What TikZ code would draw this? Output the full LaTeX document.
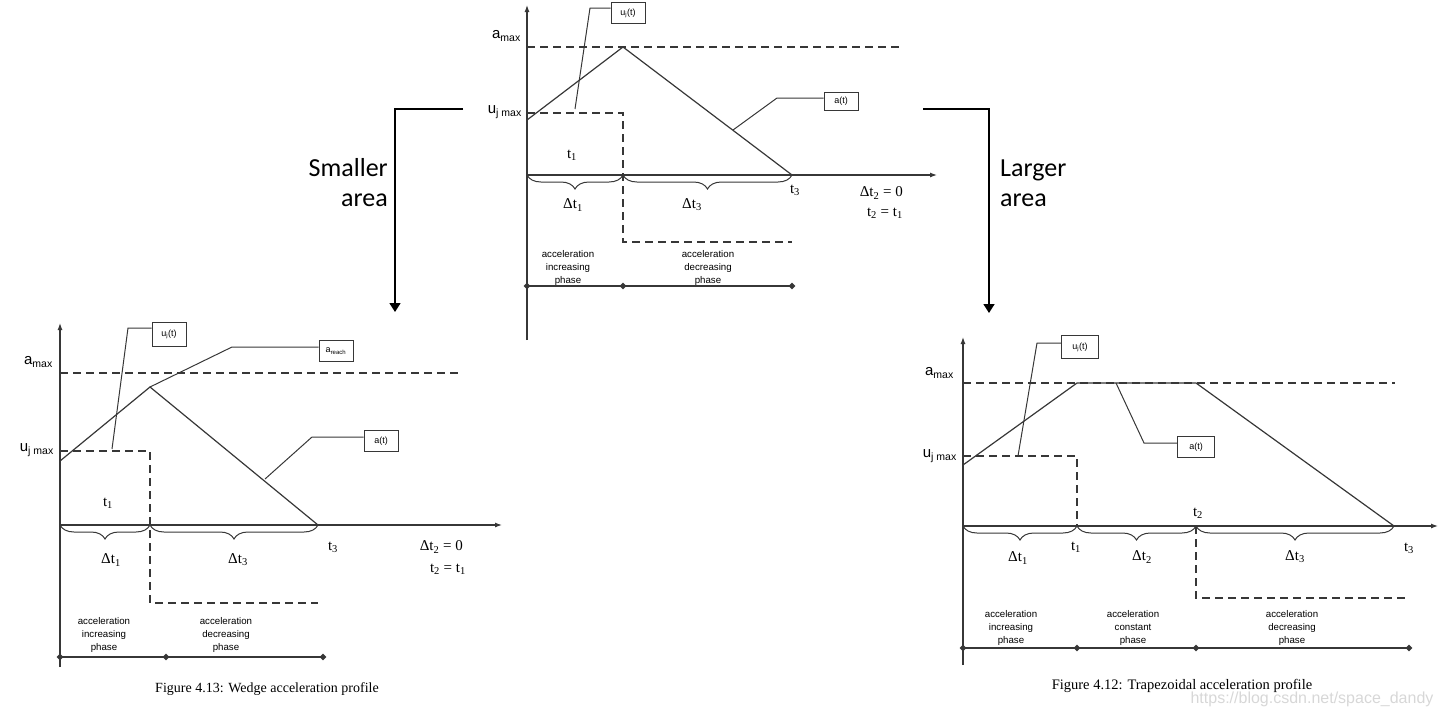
\documentclass[tikz,border=0pt]{standalone}
\usepackage{fontspec}
\setmainfont{Liberation Serif}
\setsansfont{Liberation Sans}
\newfontfamily\arrowfont{Carlito}
\usepackage{tikz}
\usetikzlibrary{arrows.meta, positioning, shapes.geometric, decorations.pathreplacing}
\definecolor{inkgray}{RGB}{55,55,55}
\definecolor{markgray}{RGB}{215,215,215}

\begin{document}
\begin{tikzpicture}[x=1pt, y=-1pt,
    axis/.style={draw=inkgray, line width=1.2pt, -{Latex[length=7pt,width=5pt]}},
    curve/.style={draw=inkgray, line width=1.2pt},
    guide/.style={draw=inkgray, line width=1.2pt, dash pattern=on 8pt off 5pt},
    leader/.style={draw=inkgray, line width=1pt},
    tag/.style={draw=inkgray, line width=1pt, minimum width=34pt, minimum height=21pt, inner sep=1pt, font=\sffamily\fontsize{9}{10}\selectfont},
    ylab/.style={anchor=east, inner sep=0pt, font=\sffamily\fontsize{15}{17}\selectfont},
    tlab/.style={inner sep=0pt, font=\fontsize{15}{17}\selectfont},
    phase/.style={align=center, inner sep=0pt, font=\sffamily\fontsize{9.7}{12.7}\selectfont},
    brc/.style={draw=inkgray, line width=1pt, decorate, decoration={brace, mirror, amplitude=14pt}},
    tick/.style={diamond, fill=inkgray, inner sep=0pt, minimum size=7pt},
    phaseline/.style={draw=inkgray, line width=1.1pt},
    flow/.style={draw=black, line width=1.6pt, -{Triangle[length=9pt,width=11pt]}},
    flowtext/.style={inner sep=0pt, font=\arrowfont\fontsize{26}{30}\selectfont},
    caption/.style={inner sep=0pt, font=\fontsize{14}{16}\selectfont}]
  \useasboundingbox (0,0) rectangle (1441,713);

  % Top profile: wedge that just touches a_max
  \draw[guide] (527,47) -- (900,47);
  \draw[guide] (527,113) -- (623,113) -- (623,242) -- (792,242);
  \draw[curve] (527,120) -- (623,47) -- (792,175);
  \draw[axis] (527,340) -- (527,5);
  \draw[axis] (527,175) -- (937,175);
  \node[ylab] (twamax) at (521,36) {a\textsubscript{max}};
  \node[ylab] (twujmax) at (522,112) {u\textsubscript{j max}};
  \node[tag] (twujt) at (628,13) {u\textsubscript{j}(t)};
  \node[tag, minimum height=18pt] (twat) at (841,101) {a(t)};
  \coordinate (twuk) at (590,8);
  \coordinate (twak) at (777,98);
  \draw[leader] (575,109) -- (twuk) -- (twuk -| twujt.west);
  \draw[leader] (733,130) -- (twak) -- (twak -| twat.west);
  \node[tlab] (twt1) at (572,155) {t\textsubscript{1}};
  \draw[brc] (527,175) -- (623,175);
  \draw[brc] (623,175) -- (792,175);
  \node[tlab] (twdt1) at (573,205) {Δt\textsubscript{1}};
  \node[tlab] (twdt3) at (692,205) {Δt\textsubscript{3}};
  \node[tlab] (twt3) at (795,190) {t\textsubscript{3}};
  \node[tlab, anchor=east] (twdt2) at (903,193) {Δt\textsubscript{2} = 0};
  \node[tlab, anchor=east] (twt2) at (903,213) {t\textsubscript{2} = t\textsubscript{1}};
  \node[phase] (twinc) at (568,268) {acceleration\\increasing\\phase};
  \node[phase] (twdec) at (708,268) {acceleration\\decreasing\\phase};
  \foreach \x in {527,623,792}
    \node[tick] (twd\x) at (\x,286) {};
  \draw[phaseline] (twd527.center) -- (twd792.center);

  % Arrows to the two cases
  \coordinate (lstart) at (463,109);
  \coordinate (lend) at (395,312);
  \draw[flow] (lstart) -- (lstart -| lend) -- (lend);
  \node[flowtext, anchor=east, align=right] (smaller) at (388,183) {Smaller\\area};
  \coordinate (rstart) at (923,109);
  \coordinate (rend) at (989,313);
  \draw[flow] (rstart) -- (rstart -| rend) -- (rend);
  \node[flowtext, anchor=west, align=left] (larger) at (1000,183) {Larger\\area};

  % Bottom left: wedge profile
  \draw[guide] (60,373) -- (462,373);
  \draw[guide] (60,451) -- (150,451) -- (150,603) -- (318,603);
  \coordinate (swpeak) at (150,387);
  \draw[curve] (60,461) -- (swpeak) -- (318,525);
  \draw[axis] (60,667) -- (60,323);
  \draw[axis] (60,525) -- (502,525);
  \node[ylab] (swamax) at (53,362) {a\textsubscript{max}};
  \node[ylab] (swujmax) at (54,450) {u\textsubscript{j max}};
  \node[tag, minimum height=24pt] (swujt) at (169,334) {u\textsubscript{j}(t)};
  \node[tag] (swreach) at (336,351) {a\textsubscript{reach}};
  \node[tag] (swat) at (381,441) {a(t)};
  \coordinate (swuk) at (128,328);
  \coordinate (swrk) at (232,347);
  \coordinate (swak) at (312,437);
  \draw[leader] (112,449) -- (swuk) -- (swuk -| swujt.west);
  \draw[leader] (swpeak) -- (swrk) -- (swrk -| swreach.west);
  \draw[leader] (265,479) -- (swak) -- (swak -| swat.west);
  \node[tlab] (swt1) at (108,503) {t\textsubscript{1}};
  \draw[brc] (60,525) -- (150,525);
  \draw[brc] (150,525) -- (318,525);
  \node[tlab] (swdt1) at (111,560) {Δt\textsubscript{1}};
  \node[tlab] (swdt3) at (238,560) {Δt\textsubscript{3}};
  \node[tlab] (swt3) at (333,547) {t\textsubscript{3}};
  \node[tlab, anchor=east] (swdt2) at (463,547) {Δt\textsubscript{2} = 0};
  \node[tlab, anchor=east] (swt2) at (466,569) {t\textsubscript{2} = t\textsubscript{1}};
  \node[phase] (swinc) at (104,635) {acceleration\\increasing\\phase};
  \node[phase] (swdec) at (226,635) {acceleration\\decreasing\\phase};
  \foreach \x in {60,166,323}
    \node[tick] (swd\x) at (\x,657) {};
  \draw[phaseline] (swd60.center) -- (swd323.center);
  \node[caption] (swcap) at (267,689) {Figure 4.13: Wedge acceleration profile};

  % Bottom right: trapezoidal profile
  \draw[guide] (963,383) -- (1395,383);
  \draw[guide] (963,456) -- (1077,456) -- (1077,526);
  \draw[guide] (1196,526) -- (1196,598) -- (1409,598);
  \draw[curve] (963,465) -- (1077,383) -- (1196,383) -- (1394,526);
  \draw[axis] (963,665) -- (963,337);
  \draw[axis] (963,526) -- (1438,526);
  \node[ylab] (tzamax) at (954,373) {a\textsubscript{max}};
  \node[ylab] (tzujmax) at (957,456) {u\textsubscript{j max}};
  \node[tag, minimum width=37pt, minimum height=23pt] (tzujt) at (1080,347) {u\textsubscript{j}(t)};
  \node[tag, minimum width=37pt] (tzat) at (1196,447) {a(t)};
  \coordinate (tzuk) at (1037,343);
  \coordinate (tzak) at (1144,443);
  \draw[leader] (1018,456) -- (tzuk) -- (tzuk -| tzujt.west);
  \draw[leader] (1116,383) -- (tzak) -- (tzak -| tzat.west);
  \node[tlab] (tzt2) at (1198,513) {t\textsubscript{2}};
  \draw[brc] (963,526) -- (1077,526);
  \draw[brc] (1077,526) -- (1196,526);
  \draw[brc] (1196,526) -- (1394,526);
  \node[tlab] (tzt1) at (1076,547) {t\textsubscript{1}};
  \node[tlab] (tzt3) at (1409,548) {t\textsubscript{3}};
  \node[tlab] (tzdt1) at (1018,558) {Δt\textsubscript{1}};
  \node[tlab] (tzdt2) at (1142,557) {Δt\textsubscript{2}};
  \node[tlab] (tzdt3) at (1295,557) {Δt\textsubscript{3}};
  \node[phase] (tzinc) at (1011,628) {acceleration\\increasing\\phase};
  \node[phase] (tzcon) at (1133,628) {acceleration\\constant\\phase};
  \node[phase] (tzdec) at (1292,628) {acceleration\\decreasing\\phase};
  \foreach \x in {963,1077,1196,1409}
    \node[tick] (tzd\x) at (\x,648) {};
  \draw[phaseline] (tzd963.center) -- (tzd1409.center);
  \node[inner sep=0pt, text=markgray, font=\sffamily\fontsize{16}{18}\selectfont] (mark) at (1312,699) {https://blog.csdn.net/space\_dandy};
  \node[caption, font=\fontsize{14.5}{16}\selectfont] (tzcap) at (1182,686) {Figure 4.12: Trapezoidal acceleration profile};
\end{tikzpicture}
\end{document}
